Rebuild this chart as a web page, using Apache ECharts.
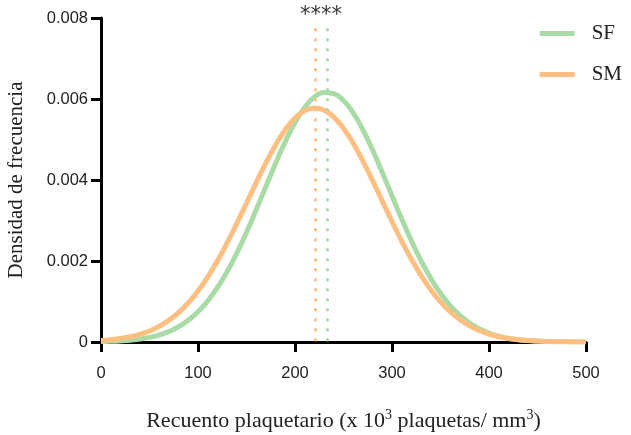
<!DOCTYPE html>
<html>
<head>
<meta charset="utf-8">
<script src="https://cdn.jsdelivr.net/npm/echarts@6/dist/echarts.min.js"></script>
<style>
    html, body {margin: 0; padding: 0; background: #fff;}
    #chart {width: 631px; height: 435px;}
</style>
</head>
<body>
<div id="chart"></div>
<script>
// platelet counts (x 10^3 / mm^3), one point every 10
const xValues = [0, 10, 20, 30, 40, 50, 60, 70, 80, 90, 100, 110, 120, 130, 140, 150, 160, 170, 180, 190, 200,
    210, 220, 230, 240, 250, 260, 270, 280, 290, 300, 310, 320, 330, 340, 350, 360, 370, 380, 390, 400,
    410, 420, 430, 440, 450, 460, 470, 480, 490, 500];

// density
const sfDensity = [0.0000094, 0.0000162, 0.0000274, 0.000045, 0.0000722, 0.000113, 0.000173, 0.000258, 0.000377, 0.000536,
    0.000746, 0.001013, 0.001343, 0.001738, 0.002196, 0.00271, 0.003265, 0.003841, 0.004411, 0.004947,
    0.005418, 0.005792, 0.006047, 0.006163, 0.006134, 0.005961, 0.005655, 0.005239, 0.004739, 0.004185,
    0.003609, 0.003039, 0.002498, 0.002005, 0.001572, 0.001203, 0.000899, 0.000656, 0.000467, 0.000325,
    0.000221, 0.000146, 0.0000947, 0.0000599, 0.000037, 0.0000223, 0.0000131, 0.0000075, 0.0000042, 0.0000023, 0.0000012];

const smDensity = [0.0000351, 0.0000551, 0.0000848, 0.000128, 0.000189, 0.000273, 0.000386, 0.000536, 0.000727, 0.000967,
    0.001258, 0.001603, 0.002001, 0.002446, 0.002927, 0.00343, 0.003935, 0.004422, 0.004865, 0.005242,
    0.005531, 0.005713, 0.00578, 0.005725, 0.005554, 0.005275, 0.004906, 0.004468, 0.003985, 0.00348,
    0.002976, 0.002492, 0.002044, 0.001641, 0.00129, 0.000993, 0.000749, 0.000553, 0.0004, 0.000283,
    0.000196, 0.000133, 0.0000884, 0.0000576, 0.0000367, 0.0000229, 0.000014, 0.0000084, 0.0000049, 0.0000028, 0.0000016];

// means (dotted lines)
const sfMean = 233.5;
const smMean = 220.5;

const seriesNames = ['SF', 'SM'];
const colors = ['#a8dba6', '#ffbf80'];

const chart = echarts.init(document.getElementById('chart'));

const pair = (xs, ys) => xs.map((x, i) => [x, ys[i]]);

const meanLine = (x, color) => ({
    symbol: 'none',
    silent: true,
    label: {show: false},
    lineStyle: {color: color, type: [0.5, 9.5], width: 3, cap: 'round', opacity: 1},
    data: [[{coord: [x, 0.00005]}, {coord: [x, 0.0079]}]]
});

const option = {
    animation: false,
    color: colors,
    grid: {left: 101, right: 45, top: 18, bottom: 93, outerBoundsMode: 'none'},
    legend: {
        data: seriesNames,
        orient: 'vertical',
        right: 4,
        top: 18,
        itemWidth: 35,
        itemHeight: 5,
        itemGap: 20,
        icon: 'rect',
        textStyle: {fontFamily: 'Liberation Serif', fontSize: 21, color: '#222', padding: [0, 0, 0, 12]}
    },
    xAxis: {
        type: 'value',
        min: 0,
        max: 500,
        interval: 100,
        name: '{t|Recuento plaquetario (x 10}{s|3}{t| plaquetas/ mm}{s|3}{t|)}',
        nameLocation: 'middle',
        nameGap: 66,
        nameMoveOverlap: false,
        nameTextStyle: {
            rich: {
                t: {fontFamily: 'Liberation Serif', fontSize: 22, color: '#222'},
                s: {fontFamily: 'Liberation Serif', fontSize: 14, color: '#222', verticalAlign: 'top', padding: [0, 0, 12, 0]}
            }
        },
        axisLine: {lineStyle: {color: '#000', width: 3}},
        axisTick: {length: 10, lineStyle: {color: '#000', width: 3}},
        axisLabel: {fontFamily: 'Liberation Sans', fontSize: 16.5, color: '#222', margin: 23},
        splitLine: {show: false}
    },
    yAxis: {
        type: 'value',
        min: 0,
        max: 0.008,
        interval: 0.002,
        name: 'Densidad de frecuencia',
        nameLocation: 'middle',
        nameGap: 74,
        nameMoveOverlap: false,
        nameTextStyle: {fontFamily: 'Liberation Serif', fontSize: 21, color: '#222'},
        axisLine: {show: true, lineStyle: {color: '#000', width: 3}},
        axisTick: {show: true, length: 10, lineStyle: {color: '#000', width: 3}},
        axisLabel: {
            fontFamily: 'Liberation Sans', fontSize: 16.5, color: '#222', margin: 13,
            formatter: v => v === 0 ? '0' : v.toFixed(3)
        },
        splitLine: {show: false}
    },
    series: [
        {
            name: 'SF',
            type: 'line',
            smooth: true,
            showSymbol: false,
            lineStyle: {width: 5},
            data: pair(xValues, sfDensity),
            markLine: meanLine(sfMean, colors[0]),
            z: 2
        },
        {
            name: 'SM',
            type: 'line',
            smooth: true,
            showSymbol: false,
            lineStyle: {width: 5},
            data: pair(xValues, smDensity),
            markLine: meanLine(smMean, colors[1]),
            z: 3
        }
    ],
    graphic: [{
        type: 'text',
        left: 300,
        top: 5,
        style: {text: '****', fontFamily: 'DejaVu Sans', fontSize: 21, fill: '#333'}
    }]
};

chart.setOption(option);
</script>
</body>
</html>
